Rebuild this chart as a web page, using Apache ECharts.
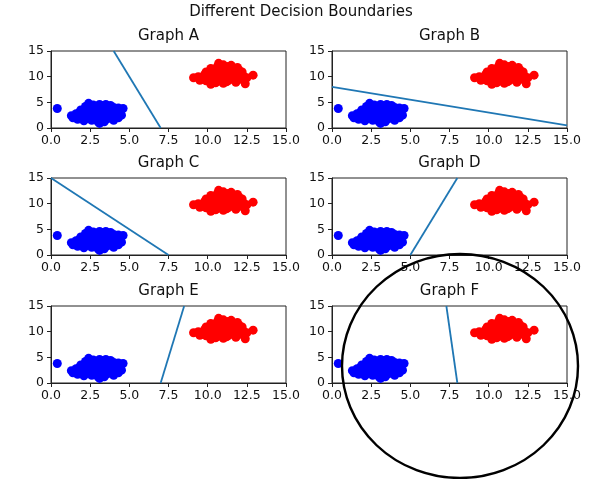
<!DOCTYPE html>
<html>
<head>
<meta charset="utf-8">
<script src="https://cdn.jsdelivr.net/npm/echarts@6/dist/echarts.min.js"></script>
<style>
html,body{margin:0;padding:0;background:#fff;}
#chart{width:601px;height:479px;}
</style>
</head>
<body>
<div id="chart"></div>
<script>
// ---- data ----
var mainTitle = "Different Decision Boundaries";
var graphTitles = ["Graph A", "Graph B", "Graph C", "Graph D", "Graph E", "Graph F"];
var bluePoints = [
  [0.4,3.8],[1.3,2.4],[1.5,2.2],[1.7,2.6],[1.8,3.0],[1.9,2.1],[2.0,3.2],[2.1,2.5],[2.2,1.8],
  [2.3,3.6],[2.4,4.8],[2.4,2.9],[2.5,2.0],[2.6,3.9],[2.6,1.5],[2.7,3.3],[2.8,2.6],[2.8,4.2],
  [2.9,1.9],[3.0,3.5],[3.0,2.3],[3.1,0.9],[3.1,4.6],[3.2,1.4],[3.2,3.0],[3.3,2.1],[3.3,4.0],
  [3.4,3.4],[3.5,4.6],[3.5,2.6],[3.6,1.8],[3.7,3.8],[3.7,3.0],[3.8,4.4],[3.8,2.2],[3.9,3.5],
  [4.0,1.5],[4.0,4.0],[4.1,2.8],[4.2,3.4],[4.5,2.5],[4.6,3.8],[2.2,4.2],[1.6,2.8],[3.4,1.2],
  [1.4,2.0],[1.9,3.5],[2.1,1.4],[2.7,4.5],[2.9,3.0],[3.0,1.2],[3.6,4.2],[4.3,3.9],[4.3,2.0],
  [1.7,1.7],[2.5,2.5],[3.9,2.6],[4.4,3.0],[3.2,4.4],[2.0,2.8]
];
var redPoints = [
  [9.1,9.8],[9.4,10.0],[9.6,9.5],[9.8,10.4],[9.9,9.2],[10.0,10.8],[10.1,9.9],[10.2,8.5],
  [10.2,11.6],[10.3,9.4],[10.4,10.5],[10.5,11.2],[10.6,9.0],[10.7,12.6],[10.7,10.1],[10.8,11.5],
  [10.9,9.6],[11.0,8.7],[11.0,12.3],[11.1,10.4],[11.2,11.0],[11.3,9.2],[11.4,10.0],[11.5,12.2],
  [11.5,11.4],[11.6,9.5],[11.7,10.6],[11.8,8.9],[11.9,11.8],[12.0,10.2],[12.1,9.6],[12.2,10.9],
  [12.4,8.6],[12.0,11.3],[12.9,10.3],[11.3,12.0],[10.4,9.8],[9.7,9.9],[11.8,10.0],[10.9,10.8],
  [9.5,9.3],[9.9,10.9],[10.5,8.8],[10.6,11.9],[11.2,9.0],[11.6,10.9],[12.3,10.1],[10.0,9.6],
  [11.9,9.3],[12.5,9.8]
];
var boundaries = [
  [[4.0,15],[7.0,0]],
  [[0,8.0],[15,0.5]],
  [[0,15],[7.5,0]],
  [[5.0,0],[8.0,15]],
  [[7.0,0],[8.5,15]],
  [[7.3,15],[8.0,0]]
];
var axisMin = 0, axisMax = 15, xStep = 2.5, yStep = 5;

// ---- layout ----
var FONT = "DejaVu Sans";
var colLeft = [51, 332];
var rowTop = [51, 178, 306];
var gw = 235, gh = 77;

var grids = [], xAxes = [], yAxes = [], series = [], titles = [];
titles.push({text: mainTitle, left: 301, top: 5, textAlign: 'center', padding: 0,
  textStyle: {fontFamily: FONT, fontSize: 15, fontWeight: 'normal', color: '#111'}});

for (var i = 0; i < 6; i++) {
  var c = i % 2, r = Math.floor(i / 2);
  grids.push({left: colLeft[c], top: rowTop[r], width: gw, height: gh, show: true,
    borderColor: '#222', borderWidth: 1, backgroundColor: 'transparent'});
  titles.push({text: graphTitles[i], left: colLeft[c] + gw / 2, top: rowTop[r] - 22,
    textAlign: 'center', padding: 0,
    textStyle: {fontFamily: FONT, fontSize: 15, fontWeight: 'normal', color: '#111'}});
  xAxes.push({type: 'value', gridIndex: i, min: axisMin, max: axisMax, interval: xStep,
    splitLine: {show: false},
    axisLine: {show: true, onZero: false, lineStyle: {color: '#222', width: 1}},
    axisTick: {show: true, length: 4, lineStyle: {color: '#222'}},
    axisLabel: {fontFamily: FONT, fontSize: 12.5, color: '#111', margin: 6,
      formatter: function (v) { return v.toFixed(1); }}});
  yAxes.push({type: 'value', gridIndex: i, min: axisMin, max: axisMax, interval: yStep,
    splitLine: {show: false},
    axisLine: {show: true, onZero: false, lineStyle: {color: '#222', width: 1}},
    axisTick: {show: true, length: 4, lineStyle: {color: '#222'}},
    axisLabel: {fontFamily: FONT, fontSize: 12.5, color: '#111', margin: 7}});
  series.push({type: 'scatter', xAxisIndex: i, yAxisIndex: i, data: bluePoints,
    symbolSize: 9, itemStyle: {color: '#0000ff', opacity: 1}, silent: true});
  series.push({type: 'scatter', xAxisIndex: i, yAxisIndex: i, data: redPoints,
    symbolSize: 9, itemStyle: {color: '#ff0000', opacity: 1}, silent: true});
  series.push({type: 'line', xAxisIndex: i, yAxisIndex: i, data: boundaries[i],
    showSymbol: false, symbol: 'none', clip: true,
    lineStyle: {color: '#1f77b4', width: 1.8}, silent: true});
}

var chart = echarts.init(document.getElementById('chart'), null, {renderer: 'canvas'});
chart.setOption({
  animation: false,
  backgroundColor: '#fff',
  title: titles,
  grid: grids,
  xAxis: xAxes,
  yAxis: yAxes,
  series: series,
  graphic: [{
    type: 'circle', x: 460, y: 366, scaleX: 118 / 112, scaleY: 1,
    shape: {cx: 0, cy: 0, r: 112},
    style: {fill: 'none', stroke: '#000', lineWidth: 2.3},
    z: 100, silent: true
  }]
});
</script>
</body>
</html>
